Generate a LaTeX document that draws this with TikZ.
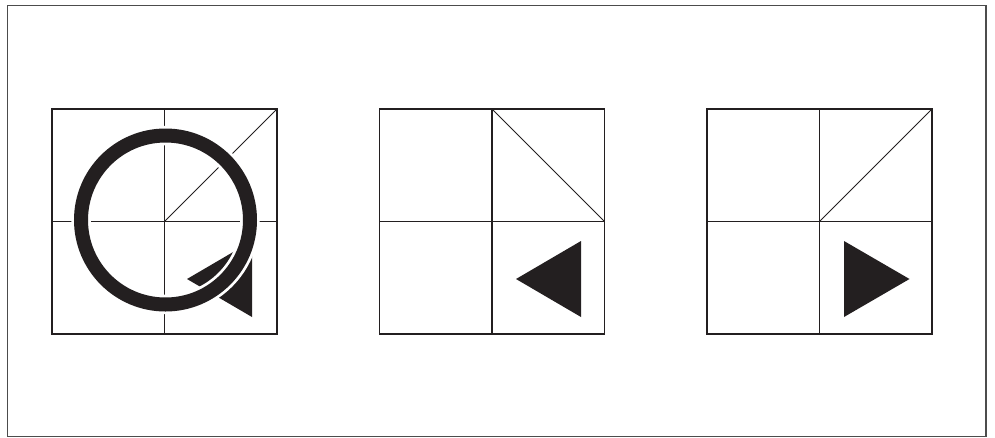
\documentclass[tikz,border=0pt]{standalone}
\definecolor{ink}{RGB}{35,31,32}
\begin{document}
\begin{tikzpicture}[x=1pt,y=-1pt]
\useasboundingbox (0,0) rectangle (995,437);
\draw[color=black!70,line width=1.2pt] (7.3,5.5) rectangle (986,436.5);
\foreach \x in {52,379.5,707}
\draw[shift={(\x,109)},color=ink,line width=1.3pt] (0,0) rectangle (225,225) (112.5,0) -- (112.5,225) (0,112.5) -- (225,112.5);
% diagonals
\draw[shift={(52,109)},color=ink,line width=1pt] (112.5,112.5) -- (225,0);
\draw[shift={(379.5,109)},color=ink,line width=1pt] (112.5,0) -- (225,112.5);
\draw[shift={(707,109)},color=ink,line width=1pt] (112.5,112.5) -- (225,0);
% triangles
\fill[shift={(52,109)},color=ink] (135,170) -- (200,132) -- (200,208) -- cycle;
\fill[shift={(379.5,109)},color=ink] (136.5,170) -- (201.5,132) -- (201.5,208) -- cycle;
\fill[shift={(707,109)},color=ink] (137,132) -- (137,208) -- (202.5,170) -- cycle;
% ring
\draw[color=white,line width=19.5pt] (165.5,220) circle [radius=84.5];
\draw[color=ink,line width=14pt] (165.5,220) circle [radius=84.5];
\end{tikzpicture}
\end{document}
